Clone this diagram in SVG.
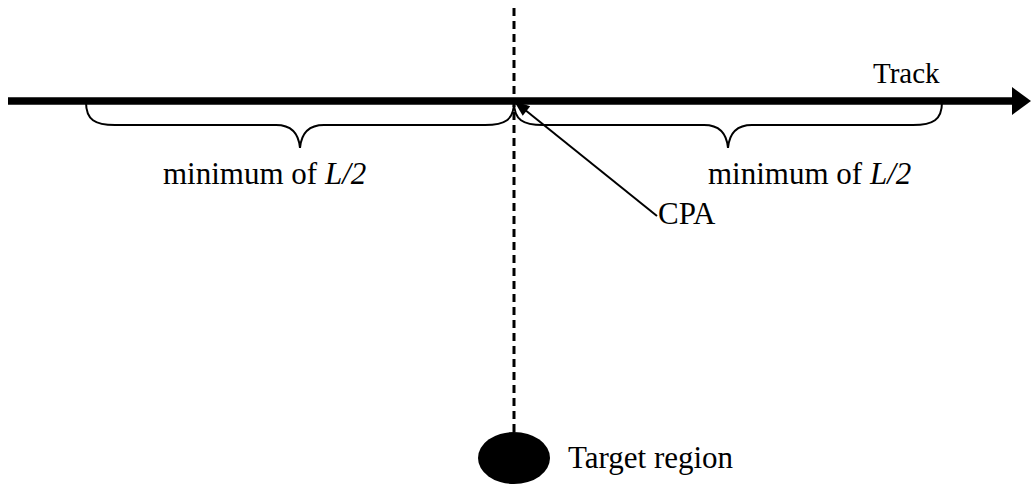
<svg xmlns="http://www.w3.org/2000/svg" width="1031" height="485" viewBox="0 0 1031 485">
<style>
text{font-family:"Liberation Serif","Times New Roman",serif;font-size:31px;fill:#000}
.brace{fill:none;stroke:#000;stroke-width:2}
</style>
<defs>
<marker id="cpaHead" markerWidth="18" markerHeight="12" refX="0" refY="6" orient="auto" markerUnits="userSpaceOnUse"><path d="M0,6 L16,0 L16,12 Z" fill="#000"/></marker>
</defs>
<rect width="1031" height="485" fill="#fff"/>
<g id="connectors">
<line x1="514" y1="8" x2="514" y2="434" stroke="#000" stroke-width="3" stroke-dasharray="8,5"/>
<line x1="8" y1="101" x2="1016" y2="101" stroke="#000" stroke-width="7.5"/>
<polygon points="1012,87 1031,101 1012,115" fill="#000"/>
<line x1="514" y1="101" x2="657" y2="216" stroke="#000" stroke-width="2" marker-start="url(#cpaHead)"/>
</g>
<g id="track"><text x="873" y="83" style="font-size:29px">Track</text></g>
<g id="brace-left">
<path class="brace" d="M86,102 C86,120 95,125 115,125 L276,125 Q298,125 300,148 Q302,125 324,125 L485,125 C505,125 514,120 514,102"/>
<text x="163" y="184">minimum of <tspan font-style="italic">L/2</tspan></text>
</g>
<g id="brace-right">
<path class="brace" d="M514,102 C514,120 523,125 543,125 L704,125 Q726,125 728,148 Q730,125 752,125 L913,125 C933,125 942,120 942,102"/>
<text x="708" y="184">minimum of <tspan font-style="italic">L/2</tspan></text>
</g>
<g id="cpa"><text x="658" y="224">CPA</text></g>
<g id="target">
<ellipse cx="514" cy="458" rx="36" ry="26" fill="#000"/>
<text x="568" y="468">Target region</text>
</g>
</svg>
